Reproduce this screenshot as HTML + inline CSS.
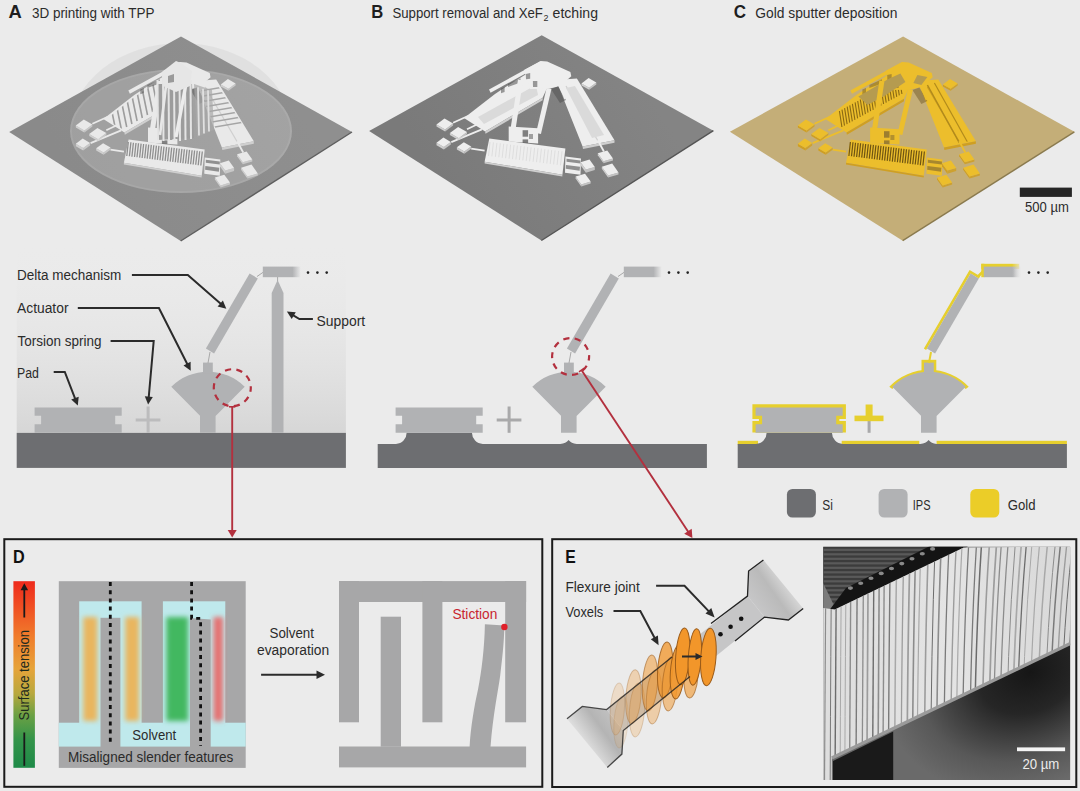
<!DOCTYPE html><html><head><meta charset="utf-8"><style>html,body{margin:0;padding:0;background:#ebebeb;}svg{display:block;font-family:"Liberation Sans",sans-serif;}</style></head><body><svg width="1080" height="791" viewBox="0 0 1080 791"><rect x="0" y="0" width="1080" height="791" fill="#ebebeb"/>
<text x="8.6" y="18.0" font-size="17.5" fill="#1e1e1e" font-weight="bold" textLength="13.3" lengthAdjust="spacingAndGlyphs" >A</text>
<text x="31.9" y="18.0" font-size="14" fill="#2b2b2b" font-weight="normal" textLength="122.7" lengthAdjust="spacingAndGlyphs" >3D printing with TPP</text>
<text x="371.2" y="18.0" font-size="17.5" fill="#1e1e1e" font-weight="bold" textLength="12.0" lengthAdjust="spacingAndGlyphs" >B</text>
<text x="392.4" y="18" font-size="14" fill="#2b2b2b" textLength="150.5" lengthAdjust="spacingAndGlyphs">Support removal and XeF</text>
<text x="543.6" y="20.5" font-size="9" fill="#2b2b2b" font-weight="normal" textLength="5.0" lengthAdjust="spacingAndGlyphs" >2</text>
<text x="552.6" y="18.0" font-size="14" fill="#2b2b2b" font-weight="normal" textLength="45.4" lengthAdjust="spacingAndGlyphs" >etching</text>
<text x="733.8" y="18.0" font-size="17.5" fill="#1e1e1e" font-weight="bold" textLength="12.3" lengthAdjust="spacingAndGlyphs" >C</text>
<text x="755.2" y="18.0" font-size="14" fill="#2b2b2b" font-weight="normal" textLength="142.2" lengthAdjust="spacingAndGlyphs" >Gold sputter deposition</text>
<path d="M70,131 A111,88 0 0 1 292,131 A111,62 0 0 1 70,131 Z" fill="#9a9a9a" opacity="0.13"/>
<polygon points="181.0,36.4 352.0,132.0 180.7,241.0 9.2,132.0" fill="url(#plA)" />
<line x1="352" y1="132" x2="180.7" y2="241" stroke="#5e5e5e" stroke-width="1.4"/>
<defs><linearGradient id="plB" gradientUnits="userSpaceOnUse" x1="640" y1="80" x2="450" y2="200"><stop offset="0" stop-color="#848484"/><stop offset="1" stop-color="#7a7a7a"/></linearGradient><linearGradient id="plA" gradientUnits="userSpaceOnUse" x1="280" y1="80" x2="90" y2="200"><stop offset="0" stop-color="#8f8f8f"/><stop offset="1" stop-color="#8a8a8a"/></linearGradient></defs>
<polygon points="541.7,35.3 713.4,130.7 541.4,240.5 369.1,131.1" fill="url(#plB)" />
<line x1="713.4" y1="130.7" x2="541.4" y2="240.5" stroke="#555" stroke-width="1.4"/>
<polygon points="903.1,36.4 1074.4,131.8 902.7,240.7 729.9,131.8" fill="#c4ae78" />
<line x1="1074.4" y1="131.8" x2="902.7" y2="240.7" stroke="#8a7a4e" stroke-width="1.4"/>
<rect x="1019.8" y="187.6" width="52.1" height="9.3" fill="#262626"/>
<text x="1025.1" y="211.9" font-size="14" fill="#2b2b2b" font-weight="normal" textLength="43.8" lengthAdjust="spacingAndGlyphs" >500 µm</text>
<ellipse cx="181" cy="131" rx="111" ry="62" fill="#ffffff" opacity="0.18"/>
<ellipse cx="181" cy="131" rx="110" ry="61" fill="none" stroke="#ffffff" stroke-opacity="0.08" stroke-width="2"/>
<g transform="translate(-360.7,1)">
<polygon points="556.0,80.0 576.9,78.5 614.5,140.3 582.6,146.4" fill="#e9e9e9" />
<polygon points="582.6,146.4 614.5,140.3 614.5,142.8 583.0,149.0" fill="#cfcfcf" />
<line x1="566" y1="86" x2="598" y2="141" stroke="#cfcfcf" stroke-width="1.2"/>
<polygon points="464.0,118.0 495.0,94.0 504.0,88.0 528.0,73.0 545.0,66.0 548.0,86.0 542.6,97.7 485.1,131.4" fill="#e9e9e9" />
<polygon points="485.1,131.4 542.6,97.7 542.6,100.2 485.5,133.8" fill="#cfcfcf" />
<defs><clipPath id="lsa"><polygon points="466,119 495,96 504,90 528,75 543,70 546,86 540.6,98.7 486.1,129.4"/></clipPath><clipPath id="rsa"><polygon points="557,82 576,80.5 613,139.3 583.6,145"/></clipPath></defs>
<g clip-path="url(#lsa)">
<line x1="468.0" y1="88.0" x2="477.0" y2="132.0" stroke="#9d9d9d" stroke-width="1.6"/>
<line x1="473.2" y1="85.0" x2="482.2" y2="129.0" stroke="#9d9d9d" stroke-width="1.6"/>
<line x1="478.4" y1="82.0" x2="487.4" y2="126.0" stroke="#9d9d9d" stroke-width="1.6"/>
<line x1="483.6" y1="79.0" x2="492.6" y2="123.0" stroke="#9d9d9d" stroke-width="1.6"/>
<line x1="488.8" y1="76.0" x2="497.8" y2="120.0" stroke="#9d9d9d" stroke-width="1.6"/>
<line x1="494.0" y1="73.0" x2="503.0" y2="117.0" stroke="#9d9d9d" stroke-width="1.6"/>
<line x1="499.2" y1="70.0" x2="508.2" y2="114.0" stroke="#9d9d9d" stroke-width="1.6"/>
<line x1="504.4" y1="67.0" x2="513.4" y2="111.0" stroke="#9d9d9d" stroke-width="1.6"/>
<line x1="509.6" y1="64.0" x2="518.6" y2="108.0" stroke="#9d9d9d" stroke-width="1.6"/>
<line x1="514.8" y1="61.0" x2="523.8" y2="105.0" stroke="#9d9d9d" stroke-width="1.6"/>
<line x1="520.0" y1="58.0" x2="529.0" y2="102.0" stroke="#9d9d9d" stroke-width="1.6"/>
<line x1="525.2" y1="55.0" x2="534.2" y2="99.0" stroke="#9d9d9d" stroke-width="1.6"/>
<line x1="530.4" y1="52.0" x2="539.4" y2="96.0" stroke="#9d9d9d" stroke-width="1.6"/>
<line x1="535.6" y1="49.0" x2="544.6" y2="93.0" stroke="#9d9d9d" stroke-width="1.6"/>
<line x1="540.8" y1="46.0" x2="549.8" y2="90.0" stroke="#9d9d9d" stroke-width="1.6"/>
<line x1="546.0" y1="43.0" x2="555.0" y2="87.0" stroke="#9d9d9d" stroke-width="1.6"/>
</g>
<g clip-path="url(#rsa)">
<line x1="550" y1="92.0" x2="620" y2="80.0" stroke="#a5a5a5" stroke-width="1.5"/>
<line x1="550" y1="97.5" x2="620" y2="85.5" stroke="#a5a5a5" stroke-width="1.5"/>
<line x1="550" y1="103.0" x2="620" y2="91.0" stroke="#a5a5a5" stroke-width="1.5"/>
<line x1="550" y1="108.5" x2="620" y2="96.5" stroke="#a5a5a5" stroke-width="1.5"/>
<line x1="550" y1="114.0" x2="620" y2="102.0" stroke="#a5a5a5" stroke-width="1.5"/>
<line x1="550" y1="119.5" x2="620" y2="107.5" stroke="#a5a5a5" stroke-width="1.5"/>
<line x1="550" y1="125.0" x2="620" y2="113.0" stroke="#a5a5a5" stroke-width="1.5"/>
<line x1="550" y1="130.5" x2="620" y2="118.5" stroke="#a5a5a5" stroke-width="1.5"/>
</g>
<polygon points="524.0,70.0 540.7,61.0 547.2,61.5 570.4,72.1 571.3,76.3 560.0,86.0 549.0,88.8 530.0,89.0" fill="#e9e9e9" />
<polygon points="489.0,89.6 540.5,61.2 542.0,64.5 490.6,92.8" fill="#e9e9e9" />
<polygon points="501.0,88.5 504.6,87.0 504.6,92.0 501.0,93.3" fill="#555" opacity="0.55"/>
<polygon points="508.0,84.0 520.5,78.3 520.5,82.5 508.0,87.1" fill="#555" opacity="0.55"/>
<polygon points="525.8,74.0 530.2,73.0 530.2,78.7 526.0,79.2" fill="#555" opacity="0.55"/>
<polygon points="532.9,81.0 537.3,80.9 537.3,87.1 533.0,87.1" fill="#555" opacity="0.55"/>
<polygon points="551.0,89.0 558.0,86.5 566.0,100.0 560.0,103.0" fill="#555" opacity="0.55"/>
<line x1="512" y1="136" x2="520.5" y2="80" stroke="#e9e9e9" stroke-width="5"/>
<line x1="538.5" y1="133.5" x2="549" y2="88.5" stroke="#e9e9e9" stroke-width="5"/>
<line x1="560" y1="86" x2="565" y2="99" stroke="#e9e9e9" stroke-width="1.5"/>
<polygon points="508.7,126.5 538.1,128.2 538.1,143.4 508.7,141.5" fill="#e9e9e9" />
<rect x="522.6" y="130.2" width="5.5" height="6.5" fill="#555" opacity="0.7"/>
<rect x="522.6" y="139.4" width="5.5" height="4" fill="#555" opacity="0.7"/>
<rect x="529" y="134" width="4" height="5" fill="#555" opacity="0.5"/>
<polygon points="489.3,138.5 565.4,148.4 562.4,174.7 484.6,161.7" fill="#e9e9e9" />
<polygon points="484.6,161.7 562.4,174.7 562.3,176.5 484.6,163.5" fill="#cfcfcf" />
<line x1="489.0" y1="141.0" x2="487.5" y2="155.0" stroke="#8e8e8e" stroke-width="1.3"/>
<line x1="491.6" y1="141.3" x2="490.1" y2="155.3" stroke="#8e8e8e" stroke-width="1.3"/>
<line x1="494.1" y1="141.7" x2="492.6" y2="155.7" stroke="#8e8e8e" stroke-width="1.3"/>
<line x1="496.7" y1="142.0" x2="495.2" y2="156.0" stroke="#8e8e8e" stroke-width="1.3"/>
<line x1="499.2" y1="142.3" x2="497.7" y2="156.3" stroke="#8e8e8e" stroke-width="1.3"/>
<line x1="501.8" y1="142.6" x2="500.3" y2="156.6" stroke="#8e8e8e" stroke-width="1.3"/>
<line x1="504.3" y1="143.0" x2="502.8" y2="157.0" stroke="#8e8e8e" stroke-width="1.3"/>
<line x1="506.9" y1="143.3" x2="505.4" y2="157.3" stroke="#8e8e8e" stroke-width="1.3"/>
<line x1="509.4" y1="143.6" x2="507.9" y2="157.6" stroke="#8e8e8e" stroke-width="1.3"/>
<line x1="512.0" y1="143.9" x2="510.5" y2="157.9" stroke="#8e8e8e" stroke-width="1.3"/>
<line x1="514.5" y1="144.3" x2="513.0" y2="158.3" stroke="#8e8e8e" stroke-width="1.3"/>
<line x1="517.1" y1="144.6" x2="515.6" y2="158.6" stroke="#8e8e8e" stroke-width="1.3"/>
<line x1="519.6" y1="144.9" x2="518.1" y2="158.9" stroke="#8e8e8e" stroke-width="1.3"/>
<line x1="522.2" y1="145.3" x2="520.7" y2="159.3" stroke="#8e8e8e" stroke-width="1.3"/>
<line x1="524.7" y1="145.6" x2="523.2" y2="159.6" stroke="#8e8e8e" stroke-width="1.3"/>
<line x1="527.3" y1="145.9" x2="525.8" y2="159.9" stroke="#8e8e8e" stroke-width="1.3"/>
<line x1="529.8" y1="146.2" x2="528.3" y2="160.2" stroke="#8e8e8e" stroke-width="1.3"/>
<line x1="532.4" y1="146.6" x2="530.9" y2="160.6" stroke="#8e8e8e" stroke-width="1.3"/>
<line x1="534.9" y1="146.9" x2="533.4" y2="160.9" stroke="#8e8e8e" stroke-width="1.3"/>
<line x1="537.5" y1="147.2" x2="536.0" y2="161.2" stroke="#8e8e8e" stroke-width="1.3"/>
<line x1="540.0" y1="147.6" x2="538.5" y2="161.6" stroke="#8e8e8e" stroke-width="1.3"/>
<line x1="542.6" y1="147.9" x2="541.1" y2="161.9" stroke="#8e8e8e" stroke-width="1.3"/>
<line x1="545.1" y1="148.2" x2="543.6" y2="162.2" stroke="#8e8e8e" stroke-width="1.3"/>
<line x1="547.7" y1="148.5" x2="546.2" y2="162.5" stroke="#8e8e8e" stroke-width="1.3"/>
<line x1="550.2" y1="148.9" x2="548.7" y2="162.9" stroke="#8e8e8e" stroke-width="1.3"/>
<line x1="552.8" y1="149.2" x2="551.3" y2="163.2" stroke="#8e8e8e" stroke-width="1.3"/>
<line x1="555.3" y1="149.5" x2="553.8" y2="163.5" stroke="#8e8e8e" stroke-width="1.3"/>
<line x1="557.9" y1="149.8" x2="556.4" y2="163.8" stroke="#8e8e8e" stroke-width="1.3"/>
<line x1="560.4" y1="150.2" x2="558.9" y2="164.2" stroke="#8e8e8e" stroke-width="1.3"/>
<line x1="563.0" y1="150.5" x2="561.5" y2="164.5" stroke="#8e8e8e" stroke-width="1.3"/>
<polygon points="565.4,156.5 581.0,158.5 580.5,174.7 565.0,172.7" fill="#e9e9e9" />
<polygon points="566.5,158.8 580.5,160.5 580.5,163.6 566.5,161.8" fill="#555" opacity="0.6"/>
<polygon points="566.0,165.0 580.0,166.8 579.6,170.7 565.8,168.8" fill="#555" opacity="0.6"/>
<line x1="453.1" y1="122.8" x2="468" y2="116" stroke="#e9e9e9" stroke-width="1.8"/>
<line x1="467" y1="129.3" x2="478" y2="124" stroke="#e9e9e9" stroke-width="1.8"/>
<line x1="451.3" y1="142.2" x2="481.9" y2="129.3" stroke="#e9e9e9" stroke-width="1.8"/>
<line x1="471.2" y1="148.7" x2="484.6" y2="150.6" stroke="#e9e9e9" stroke-width="1.8"/>
<line x1="597.8" y1="140.3" x2="603.9" y2="151.5" stroke="#e9e9e9" stroke-width="1.8"/>
<polygon points="436.5,124.6 445.1,129.5 445.1,131.5 436.5,126.6" fill="#cfcfcf" />
<polygon points="445.1,129.5 453.1,123.6 453.1,125.6 445.1,131.5" fill="#cfcfcf" opacity="0.85"/>
<polygon points="436.5,124.6 444.5,118.6 453.1,123.6 445.1,129.5" fill="#e9e9e9" />
<polygon points="449.9,133.1 458.8,138.3 458.8,140.3 449.9,135.1" fill="#cfcfcf" />
<polygon points="458.8,138.3 467.0,132.1 467.0,134.1 458.8,140.3" fill="#cfcfcf" opacity="0.85"/>
<polygon points="449.9,133.1 458.1,127.0 467.0,132.1 458.8,138.3" fill="#e9e9e9" />
<polygon points="436.5,142.7 443.9,147.0 443.9,149.6 436.5,145.3" fill="#cfcfcf" />
<polygon points="443.9,147.0 450.8,141.9 450.8,144.5 443.9,149.6" fill="#cfcfcf" opacity="0.85"/>
<polygon points="436.5,142.7 443.4,137.6 450.8,141.9 443.9,147.0" fill="#e9e9e9" />
<polygon points="456.9,147.3 464.3,151.6 464.3,153.8 456.9,149.5" fill="#cfcfcf" />
<polygon points="464.3,151.6 471.2,146.5 471.2,148.7 464.3,153.8" fill="#cfcfcf" opacity="0.85"/>
<polygon points="456.9,147.3 463.8,142.2 471.2,146.5 464.3,151.6" fill="#e9e9e9" />
<polygon points="581.5,83.4 589.2,87.8 589.2,89.8 581.5,85.4" fill="#cfcfcf" />
<polygon points="589.2,87.8 596.3,82.5 596.3,84.5 589.2,89.8" fill="#cfcfcf" opacity="0.85"/>
<polygon points="581.5,83.4 588.6,78.1 596.3,82.5 589.2,87.8" fill="#e9e9e9" />
<polygon points="597.8,153.3 603.5,161.3 603.5,163.3 597.8,155.3" fill="#cfcfcf" />
<polygon points="603.5,161.3 613.0,158.4 613.0,160.4 603.5,163.3" fill="#cfcfcf" opacity="0.85"/>
<polygon points="597.8,153.3 607.3,150.4 613.0,158.4 603.5,161.3" fill="#e9e9e9" />
<polygon points="601.8,166.7 608.1,175.5 608.1,177.5 601.8,168.7" fill="#cfcfcf" />
<polygon points="608.1,175.5 618.5,172.4 618.5,174.4 608.1,177.5" fill="#cfcfcf" opacity="0.85"/>
<polygon points="601.8,166.7 612.2,163.6 618.5,172.4 608.1,175.5" fill="#e9e9e9" />
<polygon points="575.6,176.5 581.3,184.5 581.3,186.5 575.6,178.5" fill="#cfcfcf" />
<polygon points="581.3,184.5 590.7,181.6 590.7,183.6 581.3,186.5" fill="#cfcfcf" opacity="0.85"/>
<polygon points="575.6,176.5 585.0,173.7 590.7,181.6 581.3,184.5" fill="#e9e9e9" />
<polygon points="580.6,162.2 585.9,169.6 585.9,172.7 580.6,165.2" fill="#cfcfcf" />
<polygon points="585.9,169.6 594.8,167.0 594.8,170.0 585.9,172.7" fill="#cfcfcf" opacity="0.85"/>
<polygon points="580.6,162.2 589.5,159.5 594.8,167.0 585.9,169.6" fill="#e9e9e9" />
</g>
<polygon points="157,84 192,84 194,138 158,140" fill="#9c9c9c"/>
<line x1="157.5" y1="80" x2="158.0" y2="140" stroke="#e4e4e4" stroke-width="2"/>
<line x1="163" y1="76" x2="163.5" y2="141" stroke="#e4e4e4" stroke-width="2"/>
<line x1="168.5" y1="74" x2="169.0" y2="141" stroke="#e4e4e4" stroke-width="2"/>
<line x1="174" y1="72" x2="174.5" y2="141" stroke="#e4e4e4" stroke-width="2"/>
<line x1="179.5" y1="74" x2="180.0" y2="141" stroke="#e4e4e4" stroke-width="2"/>
<line x1="185" y1="76" x2="185.5" y2="140" stroke="#e4e4e4" stroke-width="2"/>
<line x1="190.5" y1="80" x2="191.0" y2="139" stroke="#e4e4e4" stroke-width="2"/>
<line x1="176" y1="137" x2="186" y2="84" stroke="#ececec" stroke-width="3.4"/>
<line x1="160" y1="135" x2="166" y2="86" stroke="#e8e8e8" stroke-width="2.6"/>
<polygon points="162,72 176,61 181,63 192,71 190,86 176,92 163,86" fill="#e6e6e6"/>
<polygon points="168,76 174,74 174,82 168,83" fill="#9a9a9a"/>
<polygon points="194,84 212,90 214,130 197,137" fill="#a8a8a8" opacity="0.7"/>
<line x1="198" y1="87.2" x2="199" y2="135.6" stroke="#e0e0e0" stroke-width="1.8"/>
<line x1="203" y1="88.7" x2="204" y2="133.6" stroke="#e0e0e0" stroke-width="1.8"/>
<line x1="208" y1="90.2" x2="209" y2="131.6" stroke="#e0e0e0" stroke-width="1.8"/>
<g transform="translate(0,0)">
<polygon points="556.0,80.0 576.9,78.5 614.5,140.3 582.6,146.4" fill="#eeeeee" />
<polygon points="582.6,146.4 614.5,140.3 614.5,142.8 583.0,149.0" fill="#cfcfcf" />
<line x1="566" y1="86" x2="598" y2="141" stroke="#cfcfcf" stroke-width="1.2"/>
<polygon points="464.0,118.0 495.0,94.0 504.0,88.0 528.0,73.0 545.0,66.0 548.0,86.0 542.6,97.7 485.1,131.4" fill="#eeeeee" />
<polygon points="485.1,131.4 542.6,97.7 542.6,100.2 485.5,133.8" fill="#cfcfcf" />
<defs><clipPath id="lsb"><polygon points="466,119 495,96 504,90 528,75 543,70 546,86 540.6,98.7 486.1,129.4"/></clipPath><clipPath id="rsb"><polygon points="557,82 576,80.5 613,139.3 583.6,145"/></clipPath></defs>
<g clip-path="url(#lsb)">
<polygon points="478,117 536,85 538,95 484,124" fill="#dadada"/>
</g>
<g clip-path="url(#rsb)">
<polygon points="566,88 575,86 604,135 592,138" fill="#dadada"/>
</g>
<polygon points="524.0,70.0 540.7,61.0 547.2,61.5 570.4,72.1 571.3,76.3 560.0,86.0 549.0,88.8 530.0,89.0" fill="#eeeeee" />
<polygon points="489.0,89.6 540.5,61.2 542.0,64.5 490.6,92.8" fill="#eeeeee" />
<polygon points="501.0,88.5 504.6,87.0 504.6,92.0 501.0,93.3" fill="#505050" opacity="0.55"/>
<polygon points="508.0,84.0 520.5,78.3 520.5,82.5 508.0,87.1" fill="#505050" opacity="0.55"/>
<polygon points="525.8,74.0 530.2,73.0 530.2,78.7 526.0,79.2" fill="#505050" opacity="0.55"/>
<polygon points="532.9,81.0 537.3,80.9 537.3,87.1 533.0,87.1" fill="#505050" opacity="0.55"/>
<polygon points="551.0,89.0 558.0,86.5 566.0,100.0 560.0,103.0" fill="#505050" opacity="0.55"/>
<line x1="512" y1="136" x2="520.5" y2="80" stroke="#eeeeee" stroke-width="5"/>
<line x1="538.5" y1="133.5" x2="549" y2="88.5" stroke="#eeeeee" stroke-width="5"/>
<line x1="560" y1="86" x2="565" y2="99" stroke="#eeeeee" stroke-width="1.5"/>
<polygon points="508.7,126.5 538.1,128.2 538.1,143.4 508.7,141.5" fill="#eeeeee" />
<rect x="522.6" y="130.2" width="5.5" height="6.5" fill="#505050" opacity="0.7"/>
<rect x="522.6" y="139.4" width="5.5" height="4" fill="#505050" opacity="0.7"/>
<rect x="529" y="134" width="4" height="5" fill="#505050" opacity="0.5"/>
<polygon points="489.3,138.5 565.4,148.4 562.4,174.7 484.6,161.7" fill="#eeeeee" />
<polygon points="484.6,161.7 562.4,174.7 562.3,176.5 484.6,163.5" fill="#cfcfcf" />
<line x1="490.0" y1="142.0" x2="488.5" y2="156.0" stroke="#d9d9d9" stroke-width="0.8"/>
<line x1="493.4" y1="142.4" x2="491.9" y2="156.4" stroke="#d9d9d9" stroke-width="0.8"/>
<line x1="496.9" y1="142.9" x2="495.4" y2="156.9" stroke="#d9d9d9" stroke-width="0.8"/>
<line x1="500.3" y1="143.3" x2="498.8" y2="157.3" stroke="#d9d9d9" stroke-width="0.8"/>
<line x1="503.7" y1="143.8" x2="502.2" y2="157.8" stroke="#d9d9d9" stroke-width="0.8"/>
<line x1="507.1" y1="144.2" x2="505.6" y2="158.2" stroke="#d9d9d9" stroke-width="0.8"/>
<line x1="510.6" y1="144.7" x2="509.1" y2="158.7" stroke="#d9d9d9" stroke-width="0.8"/>
<line x1="514.0" y1="145.1" x2="512.5" y2="159.1" stroke="#d9d9d9" stroke-width="0.8"/>
<line x1="517.4" y1="145.5" x2="515.9" y2="159.5" stroke="#d9d9d9" stroke-width="0.8"/>
<line x1="520.9" y1="146.0" x2="519.4" y2="160.0" stroke="#d9d9d9" stroke-width="0.8"/>
<line x1="524.3" y1="146.4" x2="522.8" y2="160.4" stroke="#d9d9d9" stroke-width="0.8"/>
<line x1="527.7" y1="146.9" x2="526.2" y2="160.9" stroke="#d9d9d9" stroke-width="0.8"/>
<line x1="531.1" y1="147.3" x2="529.6" y2="161.3" stroke="#d9d9d9" stroke-width="0.8"/>
<line x1="534.6" y1="147.8" x2="533.1" y2="161.8" stroke="#d9d9d9" stroke-width="0.8"/>
<line x1="538.0" y1="148.2" x2="536.5" y2="162.2" stroke="#d9d9d9" stroke-width="0.8"/>
<line x1="541.4" y1="148.6" x2="539.9" y2="162.6" stroke="#d9d9d9" stroke-width="0.8"/>
<line x1="544.9" y1="149.1" x2="543.4" y2="163.1" stroke="#d9d9d9" stroke-width="0.8"/>
<line x1="548.3" y1="149.5" x2="546.8" y2="163.5" stroke="#d9d9d9" stroke-width="0.8"/>
<line x1="551.7" y1="150.0" x2="550.2" y2="164.0" stroke="#d9d9d9" stroke-width="0.8"/>
<line x1="555.1" y1="150.4" x2="553.6" y2="164.4" stroke="#d9d9d9" stroke-width="0.8"/>
<line x1="558.6" y1="150.9" x2="557.1" y2="164.9" stroke="#d9d9d9" stroke-width="0.8"/>
<line x1="562.0" y1="151.3" x2="560.5" y2="165.3" stroke="#d9d9d9" stroke-width="0.8"/>
<polygon points="565.4,156.5 581.0,158.5 580.5,174.7 565.0,172.7" fill="#eeeeee" />
<polygon points="566.5,158.8 580.5,160.5 580.5,163.6 566.5,161.8" fill="#505050" opacity="0.6"/>
<polygon points="566.0,165.0 580.0,166.8 579.6,170.7 565.8,168.8" fill="#505050" opacity="0.6"/>
<line x1="453.1" y1="122.8" x2="468" y2="116" stroke="#eeeeee" stroke-width="1.8"/>
<line x1="467" y1="129.3" x2="478" y2="124" stroke="#eeeeee" stroke-width="1.8"/>
<line x1="451.3" y1="142.2" x2="481.9" y2="129.3" stroke="#eeeeee" stroke-width="1.8"/>
<line x1="471.2" y1="148.7" x2="484.6" y2="150.6" stroke="#eeeeee" stroke-width="1.8"/>
<line x1="597.8" y1="140.3" x2="603.9" y2="151.5" stroke="#eeeeee" stroke-width="1.8"/>
<polygon points="436.5,124.6 445.1,129.5 445.1,131.5 436.5,126.6" fill="#cfcfcf" />
<polygon points="445.1,129.5 453.1,123.6 453.1,125.6 445.1,131.5" fill="#cfcfcf" opacity="0.85"/>
<polygon points="436.5,124.6 444.5,118.6 453.1,123.6 445.1,129.5" fill="#eeeeee" />
<polygon points="449.9,133.1 458.8,138.3 458.8,140.3 449.9,135.1" fill="#cfcfcf" />
<polygon points="458.8,138.3 467.0,132.1 467.0,134.1 458.8,140.3" fill="#cfcfcf" opacity="0.85"/>
<polygon points="449.9,133.1 458.1,127.0 467.0,132.1 458.8,138.3" fill="#eeeeee" />
<polygon points="436.5,142.7 443.9,147.0 443.9,149.6 436.5,145.3" fill="#cfcfcf" />
<polygon points="443.9,147.0 450.8,141.9 450.8,144.5 443.9,149.6" fill="#cfcfcf" opacity="0.85"/>
<polygon points="436.5,142.7 443.4,137.6 450.8,141.9 443.9,147.0" fill="#eeeeee" />
<polygon points="456.9,147.3 464.3,151.6 464.3,153.8 456.9,149.5" fill="#cfcfcf" />
<polygon points="464.3,151.6 471.2,146.5 471.2,148.7 464.3,153.8" fill="#cfcfcf" opacity="0.85"/>
<polygon points="456.9,147.3 463.8,142.2 471.2,146.5 464.3,151.6" fill="#eeeeee" />
<polygon points="581.5,83.4 589.2,87.8 589.2,89.8 581.5,85.4" fill="#cfcfcf" />
<polygon points="589.2,87.8 596.3,82.5 596.3,84.5 589.2,89.8" fill="#cfcfcf" opacity="0.85"/>
<polygon points="581.5,83.4 588.6,78.1 596.3,82.5 589.2,87.8" fill="#eeeeee" />
<polygon points="597.8,153.3 603.5,161.3 603.5,163.3 597.8,155.3" fill="#cfcfcf" />
<polygon points="603.5,161.3 613.0,158.4 613.0,160.4 603.5,163.3" fill="#cfcfcf" opacity="0.85"/>
<polygon points="597.8,153.3 607.3,150.4 613.0,158.4 603.5,161.3" fill="#eeeeee" />
<polygon points="601.8,166.7 608.1,175.5 608.1,177.5 601.8,168.7" fill="#cfcfcf" />
<polygon points="608.1,175.5 618.5,172.4 618.5,174.4 608.1,177.5" fill="#cfcfcf" opacity="0.85"/>
<polygon points="601.8,166.7 612.2,163.6 618.5,172.4 608.1,175.5" fill="#eeeeee" />
<polygon points="575.6,176.5 581.3,184.5 581.3,186.5 575.6,178.5" fill="#cfcfcf" />
<polygon points="581.3,184.5 590.7,181.6 590.7,183.6 581.3,186.5" fill="#cfcfcf" opacity="0.85"/>
<polygon points="575.6,176.5 585.0,173.7 590.7,181.6 581.3,184.5" fill="#eeeeee" />
<polygon points="580.6,162.2 585.9,169.6 585.9,172.7 580.6,165.2" fill="#cfcfcf" />
<polygon points="585.9,169.6 594.8,167.0 594.8,170.0 585.9,172.7" fill="#cfcfcf" opacity="0.85"/>
<polygon points="580.6,162.2 589.5,159.5 594.8,167.0 585.9,169.6" fill="#eeeeee" />
</g>
<g transform="translate(361.4,1)">
<polygon points="556.0,80.0 576.9,78.5 614.5,140.3 582.6,146.4" fill="#ecbe2c" />
<polygon points="582.6,146.4 614.5,140.3 614.5,142.8 583.0,149.0" fill="#cf9f22" />
<line x1="566" y1="86" x2="598" y2="141" stroke="#cf9f22" stroke-width="1.2"/>
<polygon points="464.0,118.0 495.0,94.0 504.0,88.0 528.0,73.0 545.0,66.0 548.0,86.0 542.6,97.7 485.1,131.4" fill="#ecbe2c" />
<polygon points="485.1,131.4 542.6,97.7 542.6,100.2 485.5,133.8" fill="#cf9f22" />
<defs><clipPath id="lsc"><polygon points="466,119 495,96 504,90 528,75 543,70 546,86 540.6,98.7 486.1,129.4"/></clipPath><clipPath id="rsc"><polygon points="557,82 576,80.5 613,139.3 583.6,145"/></clipPath></defs>
<g clip-path="url(#lsc)">
<line x1="478.0" y1="110.0" x2="480.5" y2="126.0" stroke="#8a6a14" stroke-width="1.1"/>
<line x1="480.6" y1="108.6" x2="483.1" y2="124.6" stroke="#8a6a14" stroke-width="1.1"/>
<line x1="483.2" y1="107.1" x2="485.7" y2="123.1" stroke="#8a6a14" stroke-width="1.1"/>
<line x1="485.8" y1="105.7" x2="488.3" y2="121.7" stroke="#8a6a14" stroke-width="1.1"/>
<line x1="488.4" y1="104.3" x2="490.9" y2="120.3" stroke="#8a6a14" stroke-width="1.1"/>
<line x1="491.0" y1="102.8" x2="493.5" y2="118.8" stroke="#8a6a14" stroke-width="1.1"/>
<line x1="493.7" y1="101.4" x2="496.2" y2="117.4" stroke="#8a6a14" stroke-width="1.1"/>
<line x1="496.3" y1="100.0" x2="498.8" y2="116.0" stroke="#8a6a14" stroke-width="1.1"/>
<line x1="498.9" y1="98.5" x2="501.4" y2="114.5" stroke="#8a6a14" stroke-width="1.1"/>
<line x1="501.5" y1="97.1" x2="504.0" y2="113.1" stroke="#8a6a14" stroke-width="1.1"/>
<line x1="504.1" y1="95.7" x2="506.6" y2="111.7" stroke="#8a6a14" stroke-width="1.1"/>
<line x1="506.7" y1="94.2" x2="509.2" y2="110.2" stroke="#8a6a14" stroke-width="1.1"/>
<line x1="509.3" y1="92.8" x2="511.8" y2="108.8" stroke="#8a6a14" stroke-width="1.1"/>
<line x1="511.9" y1="91.3" x2="514.4" y2="107.3" stroke="#8a6a14" stroke-width="1.1"/>
<line x1="514.5" y1="89.9" x2="517.0" y2="105.9" stroke="#8a6a14" stroke-width="1.1"/>
<line x1="517.1" y1="88.5" x2="519.6" y2="104.5" stroke="#8a6a14" stroke-width="1.1"/>
<line x1="519.7" y1="87.0" x2="522.2" y2="103.0" stroke="#8a6a14" stroke-width="1.1"/>
<line x1="522.3" y1="85.6" x2="524.8" y2="101.6" stroke="#8a6a14" stroke-width="1.1"/>
<line x1="525.0" y1="84.2" x2="527.5" y2="100.2" stroke="#8a6a14" stroke-width="1.1"/>
<line x1="527.6" y1="82.7" x2="530.1" y2="98.7" stroke="#8a6a14" stroke-width="1.1"/>
<line x1="530.2" y1="81.3" x2="532.7" y2="97.3" stroke="#8a6a14" stroke-width="1.1"/>
<line x1="532.8" y1="79.9" x2="535.3" y2="95.9" stroke="#8a6a14" stroke-width="1.1"/>
<line x1="535.4" y1="78.4" x2="537.9" y2="94.4" stroke="#8a6a14" stroke-width="1.1"/>
<line x1="538.0" y1="77.0" x2="540.5" y2="93.0" stroke="#8a6a14" stroke-width="1.1"/>
</g>
<g clip-path="url(#rsc)">
<line x1="566" y1="84" x2="598" y2="142" stroke="#b08a1c" stroke-width="1.5"/>
<line x1="573" y1="82" x2="606" y2="141" stroke="#b08a1c" stroke-width="1.2"/>
</g>
<polygon points="524.0,70.0 540.7,61.0 547.2,61.5 570.4,72.1 571.3,76.3 560.0,86.0 549.0,88.8 530.0,89.0" fill="#ecbe2c" />
<polygon points="489.0,89.6 540.5,61.2 542.0,64.5 490.6,92.8" fill="#ecbe2c" />
<polygon points="501.0,88.5 504.6,87.0 504.6,92.0 501.0,93.3" fill="#7a6230" opacity="0.55"/>
<polygon points="508.0,84.0 520.5,78.3 520.5,82.5 508.0,87.1" fill="#7a6230" opacity="0.55"/>
<polygon points="525.8,74.0 530.2,73.0 530.2,78.7 526.0,79.2" fill="#7a6230" opacity="0.55"/>
<polygon points="532.9,81.0 537.3,80.9 537.3,87.1 533.0,87.1" fill="#7a6230" opacity="0.55"/>
<polygon points="551.0,89.0 558.0,86.5 566.0,100.0 560.0,103.0" fill="#7a6230" opacity="0.55"/>
<polygon points="497.0,95.5 527.0,78.0 539.0,72.5 544.0,81.0 523.0,95.0 506.0,104.0" fill="#b59b50" />
<polygon points="556.0,74.0 566.0,76.0 560.0,84.0 552.0,82.0" fill="#b59b50" />
<line x1="512" y1="136" x2="520.5" y2="80" stroke="#ecbe2c" stroke-width="5"/>
<line x1="538.5" y1="133.5" x2="549" y2="88.5" stroke="#ecbe2c" stroke-width="5"/>
<line x1="560" y1="86" x2="565" y2="99" stroke="#ecbe2c" stroke-width="1.5"/>
<polygon points="508.7,126.5 538.1,128.2 538.1,143.4 508.7,141.5" fill="#ecbe2c" />
<rect x="522.6" y="130.2" width="5.5" height="6.5" fill="#7a6230" opacity="0.7"/>
<rect x="522.6" y="139.4" width="5.5" height="4" fill="#7a6230" opacity="0.7"/>
<rect x="529" y="134" width="4" height="5" fill="#7a6230" opacity="0.5"/>
<polygon points="489.3,138.5 565.4,148.4 562.4,174.7 484.6,161.7" fill="#ecbe2c" />
<polygon points="484.6,161.7 562.4,174.7 562.3,176.5 484.6,163.5" fill="#cf9f22" />
<line x1="489.0" y1="141.0" x2="487.5" y2="155.0" stroke="#6e5412" stroke-width="1.2"/>
<line x1="491.6" y1="141.3" x2="490.1" y2="155.3" stroke="#6e5412" stroke-width="1.2"/>
<line x1="494.1" y1="141.7" x2="492.6" y2="155.7" stroke="#6e5412" stroke-width="1.2"/>
<line x1="496.7" y1="142.0" x2="495.2" y2="156.0" stroke="#6e5412" stroke-width="1.2"/>
<line x1="499.2" y1="142.3" x2="497.7" y2="156.3" stroke="#6e5412" stroke-width="1.2"/>
<line x1="501.8" y1="142.6" x2="500.3" y2="156.6" stroke="#6e5412" stroke-width="1.2"/>
<line x1="504.3" y1="143.0" x2="502.8" y2="157.0" stroke="#6e5412" stroke-width="1.2"/>
<line x1="506.9" y1="143.3" x2="505.4" y2="157.3" stroke="#6e5412" stroke-width="1.2"/>
<line x1="509.4" y1="143.6" x2="507.9" y2="157.6" stroke="#6e5412" stroke-width="1.2"/>
<line x1="512.0" y1="143.9" x2="510.5" y2="157.9" stroke="#6e5412" stroke-width="1.2"/>
<line x1="514.5" y1="144.3" x2="513.0" y2="158.3" stroke="#6e5412" stroke-width="1.2"/>
<line x1="517.1" y1="144.6" x2="515.6" y2="158.6" stroke="#6e5412" stroke-width="1.2"/>
<line x1="519.6" y1="144.9" x2="518.1" y2="158.9" stroke="#6e5412" stroke-width="1.2"/>
<line x1="522.2" y1="145.3" x2="520.7" y2="159.3" stroke="#6e5412" stroke-width="1.2"/>
<line x1="524.7" y1="145.6" x2="523.2" y2="159.6" stroke="#6e5412" stroke-width="1.2"/>
<line x1="527.3" y1="145.9" x2="525.8" y2="159.9" stroke="#6e5412" stroke-width="1.2"/>
<line x1="529.8" y1="146.2" x2="528.3" y2="160.2" stroke="#6e5412" stroke-width="1.2"/>
<line x1="532.4" y1="146.6" x2="530.9" y2="160.6" stroke="#6e5412" stroke-width="1.2"/>
<line x1="534.9" y1="146.9" x2="533.4" y2="160.9" stroke="#6e5412" stroke-width="1.2"/>
<line x1="537.5" y1="147.2" x2="536.0" y2="161.2" stroke="#6e5412" stroke-width="1.2"/>
<line x1="540.0" y1="147.6" x2="538.5" y2="161.6" stroke="#6e5412" stroke-width="1.2"/>
<line x1="542.6" y1="147.9" x2="541.1" y2="161.9" stroke="#6e5412" stroke-width="1.2"/>
<line x1="545.1" y1="148.2" x2="543.6" y2="162.2" stroke="#6e5412" stroke-width="1.2"/>
<line x1="547.7" y1="148.5" x2="546.2" y2="162.5" stroke="#6e5412" stroke-width="1.2"/>
<line x1="550.2" y1="148.9" x2="548.7" y2="162.9" stroke="#6e5412" stroke-width="1.2"/>
<line x1="552.8" y1="149.2" x2="551.3" y2="163.2" stroke="#6e5412" stroke-width="1.2"/>
<line x1="555.3" y1="149.5" x2="553.8" y2="163.5" stroke="#6e5412" stroke-width="1.2"/>
<line x1="557.9" y1="149.8" x2="556.4" y2="163.8" stroke="#6e5412" stroke-width="1.2"/>
<line x1="560.4" y1="150.2" x2="558.9" y2="164.2" stroke="#6e5412" stroke-width="1.2"/>
<line x1="563.0" y1="150.5" x2="561.5" y2="164.5" stroke="#6e5412" stroke-width="1.2"/>
<polygon points="565.4,156.5 581.0,158.5 580.5,174.7 565.0,172.7" fill="#ecbe2c" />
<polygon points="566.5,158.8 580.5,160.5 580.5,163.6 566.5,161.8" fill="#7a6230" opacity="0.6"/>
<polygon points="566.0,165.0 580.0,166.8 579.6,170.7 565.8,168.8" fill="#7a6230" opacity="0.6"/>
<line x1="453.1" y1="122.8" x2="468" y2="116" stroke="#ecbe2c" stroke-width="1.8"/>
<line x1="467" y1="129.3" x2="478" y2="124" stroke="#ecbe2c" stroke-width="1.8"/>
<line x1="451.3" y1="142.2" x2="481.9" y2="129.3" stroke="#ecbe2c" stroke-width="1.8"/>
<line x1="471.2" y1="148.7" x2="484.6" y2="150.6" stroke="#ecbe2c" stroke-width="1.8"/>
<line x1="597.8" y1="140.3" x2="603.9" y2="151.5" stroke="#ecbe2c" stroke-width="1.8"/>
<polygon points="436.5,124.6 445.1,129.5 445.1,131.5 436.5,126.6" fill="#cf9f22" />
<polygon points="445.1,129.5 453.1,123.6 453.1,125.6 445.1,131.5" fill="#cf9f22" opacity="0.85"/>
<polygon points="436.5,124.6 444.5,118.6 453.1,123.6 445.1,129.5" fill="#ecbe2c" />
<polygon points="449.9,133.1 458.8,138.3 458.8,140.3 449.9,135.1" fill="#cf9f22" />
<polygon points="458.8,138.3 467.0,132.1 467.0,134.1 458.8,140.3" fill="#cf9f22" opacity="0.85"/>
<polygon points="449.9,133.1 458.1,127.0 467.0,132.1 458.8,138.3" fill="#ecbe2c" />
<polygon points="436.5,142.7 443.9,147.0 443.9,149.6 436.5,145.3" fill="#cf9f22" />
<polygon points="443.9,147.0 450.8,141.9 450.8,144.5 443.9,149.6" fill="#cf9f22" opacity="0.85"/>
<polygon points="436.5,142.7 443.4,137.6 450.8,141.9 443.9,147.0" fill="#ecbe2c" />
<polygon points="456.9,147.3 464.3,151.6 464.3,153.8 456.9,149.5" fill="#cf9f22" />
<polygon points="464.3,151.6 471.2,146.5 471.2,148.7 464.3,153.8" fill="#cf9f22" opacity="0.85"/>
<polygon points="456.9,147.3 463.8,142.2 471.2,146.5 464.3,151.6" fill="#ecbe2c" />
<polygon points="581.5,83.4 589.2,87.8 589.2,89.8 581.5,85.4" fill="#cf9f22" />
<polygon points="589.2,87.8 596.3,82.5 596.3,84.5 589.2,89.8" fill="#cf9f22" opacity="0.85"/>
<polygon points="581.5,83.4 588.6,78.1 596.3,82.5 589.2,87.8" fill="#ecbe2c" />
<polygon points="597.8,153.3 603.5,161.3 603.5,163.3 597.8,155.3" fill="#cf9f22" />
<polygon points="603.5,161.3 613.0,158.4 613.0,160.4 603.5,163.3" fill="#cf9f22" opacity="0.85"/>
<polygon points="597.8,153.3 607.3,150.4 613.0,158.4 603.5,161.3" fill="#ecbe2c" />
<polygon points="601.8,166.7 608.1,175.5 608.1,177.5 601.8,168.7" fill="#cf9f22" />
<polygon points="608.1,175.5 618.5,172.4 618.5,174.4 608.1,177.5" fill="#cf9f22" opacity="0.85"/>
<polygon points="601.8,166.7 612.2,163.6 618.5,172.4 608.1,175.5" fill="#ecbe2c" />
<polygon points="575.6,176.5 581.3,184.5 581.3,186.5 575.6,178.5" fill="#cf9f22" />
<polygon points="581.3,184.5 590.7,181.6 590.7,183.6 581.3,186.5" fill="#cf9f22" opacity="0.85"/>
<polygon points="575.6,176.5 585.0,173.7 590.7,181.6 581.3,184.5" fill="#ecbe2c" />
<polygon points="580.6,162.2 585.9,169.6 585.9,172.7 580.6,165.2" fill="#cf9f22" />
<polygon points="585.9,169.6 594.8,167.0 594.8,170.0 585.9,172.7" fill="#cf9f22" opacity="0.85"/>
<polygon points="580.6,162.2 589.5,159.5 594.8,167.0 585.9,169.6" fill="#ecbe2c" />
</g>
<defs><linearGradient id="gA" x1="0" y1="0" x2="0" y2="1"><stop offset="0" stop-color="#ebebeb" stop-opacity="0"/><stop offset="1" stop-color="#d6d6d6"/></linearGradient><linearGradient id="barI" x1="0" y1="0" x2="1" y2="0"><stop offset="0.78" stop-color="#b1b2b4"/><stop offset="1" stop-color="#b1b2b4" stop-opacity="0"/></linearGradient></defs>
<rect x="16.7" y="240" width="329.2" height="193" fill="url(#gA)"/>
<rect x="16.7" y="432.9" width="329.2" height="35" fill="#6d6e71"/>
<polygon points="34.6,407.4 121.7,407.4 121.7,415.7 115.2,415.7 115.2,424.2 121.7,424.2 121.7,432.8 34.6,432.8 34.6,424.2 41.1,424.2 41.1,415.7 34.6,415.7" fill="#b1b2b4" />
<rect x="146.6" y="406.5" width="3" height="26.3" fill="#bcbcbd"/>
<rect x="135.7" y="418.5" width="24.7" height="3" fill="#bcbcbd"/>
<path d="M171.3,386.8 A52,52 0 0 1 244.7,386.8 L215.6,416 L215.6,432.8 L200.0,432.8 L200.0,415.7 Z" fill="#b1b2b4"/>
<rect x="203" y="362.6" width="9.8" height="10.5" fill="#b1b2b4"/>
<polygon points="214.1,353.4 257.8,278.4 249.6,273.6 205.9,348.6" fill="#b1b2b4" />
<line x1="210" y1="352" x2="208" y2="363" stroke="#a9a9a9" stroke-width="1"/>
<line x1="257" y1="276.5" x2="263.5" y2="272" stroke="#a9a9a9" stroke-width="1"/>
<rect x="262.8" y="266.6" width="38" height="10.6" fill="url(#barI)"/>
<circle cx="308.0" cy="272.6" r="1.3" fill="#222"/>
<circle cx="317.4" cy="272.6" r="1.3" fill="#222"/>
<circle cx="326.7" cy="272.6" r="1.3" fill="#222"/>
<polygon points="271.7,432.8 271.7,293.0 277.6,280.0 283.5,293.0 283.5,432.8" fill="#b1b2b4" />
<line x1="277.6" y1="277" x2="277.6" y2="281" stroke="#a9a9a9" stroke-width="1"/>
<path d="M377.7,468 L377.7,443.9 L396.0,443.9 A11,11 0 0 0 406.6,432.8 L472.0,432.8 A11,11 0 0 0 482.7,443.9 L560.3,443.9 Q566.0,443.5 568.6,440 Q571.2,443.5 576.6,443.9 L706.9,443.9 L706.9,468 Z" fill="#6d6e71"/>
<polygon points="395.6,407.4 482.7,407.4 482.7,415.7 476.2,415.7 476.2,424.2 482.7,424.2 482.7,432.8 395.6,432.8 395.6,424.2 402.1,424.2 402.1,415.7 395.6,415.7" fill="#b1b2b4" />
<rect x="507.6" y="406.5" width="3" height="26.3" fill="#a9a9aa"/>
<rect x="496.7" y="418.5" width="24.7" height="3" fill="#a9a9aa"/>
<path d="M532.3,386.8 A52,52 0 0 1 605.7,386.8 L576.6,416 L576.6,432.8 L561.0,432.8 L561.0,415.7 Z" fill="#b1b2b4"/>
<rect x="564" y="362.6" width="9.8" height="10.5" fill="#b1b2b4"/>
<polygon points="575.1,353.4 618.8,278.4 610.6,273.6 566.9,348.6" fill="#b1b2b4" />
<line x1="571" y1="352" x2="569" y2="363" stroke="#a9a9a9" stroke-width="1"/>
<line x1="618" y1="276.5" x2="624.5" y2="272" stroke="#a9a9a9" stroke-width="1"/>
<rect x="623.8" y="266.6" width="38" height="10.6" fill="url(#barI)"/>
<circle cx="669.0" cy="272.6" r="1.3" fill="#222"/>
<circle cx="678.4" cy="272.6" r="1.3" fill="#222"/>
<circle cx="687.7" cy="272.6" r="1.3" fill="#222"/>
<rect x="737.7" y="440.8" width="20.3" height="4" fill="#e6cf2e"/>
<rect x="841.7" y="440.8" width="77.60000000000001" height="4" fill="#e6cf2e"/>
<rect x="936.6" y="440.8" width="130.29999999999998" height="4" fill="#e6cf2e"/>
<path d="M737.7,468 L737.7,443.9 L756.0,443.9 A11,11 0 0 0 766.6,432.8 L832.0,432.8 A11,11 0 0 0 842.7,443.9 L920.3,443.9 Q926.0,443.5 928.6,440 Q931.2,443.5 936.6,443.9 L1066.9,443.9 L1066.9,468 Z" fill="#6d6e71"/>
<defs><clipPath id="padclip"><rect x="721" y="380" width="360" height="52.4"/></clipPath></defs>
<polygon points="755.6,407.4 842.7,407.4 842.7,415.7 836.2,415.7 836.2,424.2 842.7,424.2 842.7,432.8 755.6,432.8 755.6,424.2 762.1,424.2 762.1,415.7 755.6,415.7" fill="#e6cf2e" stroke="#e6cf2e" stroke-width="6.4" stroke-linejoin="miter" clip-path="url(#padclip)"/>
<polygon points="755.6,407.4 842.7,407.4 842.7,415.7 836.2,415.7 836.2,424.2 842.7,424.2 842.7,432.8 755.6,432.8 755.6,424.2 762.1,424.2 762.1,415.7 755.6,415.7" fill="#b1b2b4" />
<rect x="867.6" y="406.5" width="3" height="26.3" fill="#a9a9aa"/>
<rect x="865.6" y="404.5" width="7" height="15" fill="#e6cf2e"/>
<rect x="854.5" y="415.6" width="29" height="5.6" fill="#e6cf2e"/>
<path d="M889.3,386.8 A55,55 0 0 1 968.7,386.8 L965.7,389 A52,52 0 0 0 892.3,389 Z" fill="#e6cf2e"/>
<rect x="921.5" y="359.8" width="14.8" height="12.5" fill="#e6cf2e"/>
<path d="M892.3,386.8 A52,52 0 0 1 965.7,386.8 L936.6,416 L936.6,432.8 L921.0,432.8 L921.0,415.7 Z" fill="#b1b2b4"/>
<rect x="924" y="362.6" width="9.8" height="10.5" fill="#b1b2b4"/>
<polygon points="926.1,349.9 923.9,348.6 969.6,270.0 980.2,276.2 978.8,278.4 970.6,273.6" fill="#e6cf2e" />
<polygon points="935.1,353.4 978.8,278.4 970.6,273.6 926.9,348.6" fill="#b1b2b4" />
<line x1="931" y1="352" x2="929" y2="363" stroke="#e6cf2e" stroke-width="2"/>
<line x1="978" y1="276.5" x2="984.5" y2="270" stroke="#e6cf2e" stroke-width="2.5"/>
<rect x="981.3" y="263.8" width="38" height="5" fill="#e6cf2e"/>
<rect x="981.3" y="263.8" width="3" height="13.4" fill="#e6cf2e"/>
<rect x="1010" y="262.8" width="14" height="7" fill="#ebebeb" opacity="0.0"/>
<rect x="983.8" y="266.6" width="38" height="10.6" fill="url(#barI)"/>
<circle cx="1029.0" cy="272.6" r="1.3" fill="#222"/>
<circle cx="1038.4" cy="272.6" r="1.3" fill="#222"/>
<circle cx="1047.7" cy="272.6" r="1.3" fill="#222"/>
<rect x="1012" y="262.8" width="11" height="15" fill="url(#fadeR)"/>
<defs><linearGradient id="fadeR" x1="0" y1="0" x2="1" y2="0"><stop offset="0" stop-color="#ebebeb" stop-opacity="0"/><stop offset="1" stop-color="#ebebeb" stop-opacity="1"/></linearGradient></defs>
<text x="17.0" y="280.4" font-size="14" fill="#2b2b2b" font-weight="normal" textLength="104.3" lengthAdjust="spacingAndGlyphs" >Delta mechanism</text>
<text x="17.0" y="312.8" font-size="14" fill="#2b2b2b" font-weight="normal" textLength="51.5" lengthAdjust="spacingAndGlyphs" >Actuator</text>
<text x="17.6" y="345.7" font-size="14" fill="#2b2b2b" font-weight="normal" textLength="83.9" lengthAdjust="spacingAndGlyphs" >Torsion spring</text>
<text x="17.0" y="378.1" font-size="14" fill="#2b2b2b" font-weight="normal" textLength="21.9" lengthAdjust="spacingAndGlyphs" >Pad</text>
<text x="316.6" y="325.5" font-size="14" fill="#2b2b2b" font-weight="normal" textLength="48.6" lengthAdjust="spacingAndGlyphs" >Support</text>
<polyline points="131.9,275.0 187.8,275.0 221.0,304.1" fill="none" stroke="#2b2b2b" stroke-width="2" stroke-linejoin="miter"/>
<polygon points="226.3,308.7 217.6,306.4 222.9,300.4" fill="#2b2b2b"/>
<polyline points="77.8,308.1 158.9,308.1 187.5,364.5" fill="none" stroke="#2b2b2b" stroke-width="2" stroke-linejoin="miter"/>
<polygon points="190.7,370.7 183.5,365.4 190.6,361.8" fill="#2b2b2b"/>
<polyline points="110.6,341.1 153.7,341.1 148.7,397.5" fill="none" stroke="#2b2b2b" stroke-width="2" stroke-linejoin="miter"/>
<polygon points="148.1,404.5 144.8,396.2 152.8,396.9" fill="#2b2b2b"/>
<polyline points="53.7,371.9 64.8,371.9 75.3,399.1" fill="none" stroke="#2b2b2b" stroke-width="2" stroke-linejoin="miter"/>
<polygon points="77.8,405.6 71.2,399.6 78.7,396.7" fill="#2b2b2b"/>
<polyline points="312.9,319.0 299.4,319.0 292.9,315.2" fill="none" stroke="#2b2b2b" stroke-width="2" stroke-linejoin="miter"/>
<polygon points="286.9,311.6 295.8,312.2 291.7,319.1" fill="#2b2b2b"/>
<circle cx="232.3" cy="387.7" r="18.5" fill="none" stroke="#b3303e" stroke-width="2.2" stroke-dasharray="6.2 5.4" stroke-dashoffset="2"/>
<circle cx="570.6" cy="356.5" r="18.5" fill="none" stroke="#b3303e" stroke-width="2.2" stroke-dasharray="6.2 5.4" stroke-dashoffset="2"/>
<polyline points="232.2,406.5 232.2,531.1" fill="none" stroke="#b3303e" stroke-width="1.9" stroke-linejoin="miter"/>
<polygon points="232.2,537.6 227.7,530.1 236.7,530.1" fill="#b3303e"/>
<line x1="229" y1="406.8" x2="235.4" y2="406.8" stroke="#b3303e" stroke-width="1.6"/>
<polyline points="581.6,370.2 688.5,532.2" fill="none" stroke="#b3303e" stroke-width="1.9" stroke-linejoin="miter"/>
<polygon points="692.4,538.0 684.2,533.8 691.7,528.8" fill="#b3303e"/>
<line x1="579" y1="371.8" x2="584.3" y2="368.2" stroke="#b3303e" stroke-width="1.6"/>
<rect x="786.9" y="488.9" width="29" height="28.6" rx="5.5" fill="#6d6e71"/>
<text x="822.2" y="509.7" font-size="14" fill="#2b2b2b" font-weight="normal" textLength="10.6" lengthAdjust="spacingAndGlyphs" >Si</text>
<rect x="878.6" y="488.9" width="29" height="28.6" rx="5.5" fill="#b1b2b4"/>
<text x="912.8" y="509.7" font-size="14" fill="#2b2b2b" font-weight="normal" textLength="17.8" lengthAdjust="spacingAndGlyphs" >IPS</text>
<rect x="970.3" y="488.9" width="29" height="28.6" rx="5.5" fill="#ebcd28"/>
<text x="1007.8" y="509.7" font-size="14" fill="#2b2b2b" font-weight="normal" textLength="27.8" lengthAdjust="spacingAndGlyphs" >Gold</text>
<rect x="4.3" y="539.2" width="538" height="247.6" fill="none" stroke="#1a1a1a" stroke-width="2"/>
<text x="13.1" y="562.7" font-size="17.5" fill="#111" font-weight="bold" textLength="11.7" lengthAdjust="spacingAndGlyphs" >D</text>
<defs><linearGradient id="stg" x1="0" y1="0" x2="0" y2="1"><stop offset="0" stop-color="#ee2a1c"/><stop offset="0.12" stop-color="#f04a22"/><stop offset="0.3" stop-color="#f07d2c"/><stop offset="0.47" stop-color="#e6a43a"/><stop offset="0.6" stop-color="#b9a83e"/><stop offset="0.72" stop-color="#6aa044"/><stop offset="0.85" stop-color="#33944a"/><stop offset="1" stop-color="#1e8a48"/></linearGradient></defs>
<rect x="13.4" y="581.2" width="21.5" height="186.6" fill="url(#stg)"/>
<polyline points="24.3,617.5 24.3,589.2" fill="none" stroke="#1a1a1a" stroke-width="1.8" stroke-linejoin="miter"/>
<polygon points="24.3,583.2 28.1,590.2 20.6,590.2" fill="#1a1a1a"/>
<line x1="24.3" y1="732.5" x2="24.3" y2="765.8" stroke="#1a1a1a" stroke-width="1.8"/>
<text transform="translate(29.2,720.4) rotate(-90)" font-size="14" fill="#1e2a1e" textLength="90.5" lengthAdjust="spacingAndGlyphs">Surface tension</text>
<rect x="58.8" y="581.2" width="186.9" height="186.7" fill="#a7a7a8"/>
<rect x="58.8" y="722.7" width="186.9" height="23.9" fill="#bfe9ec"/>
<rect x="79.2" y="601.3" width="62.4" height="122" fill="#bfe9ec"/>
<rect x="162.9" y="601.3" width="62.4" height="122" fill="#bfe9ec"/>
<defs><filter id="bl" x="-50%" y="-20%" width="200%" height="140%"><feGaussianBlur stdDeviation="2.6"/></filter></defs>
<rect x="83.2" y="617" width="14.099999999999994" height="104" fill="#e9b65e" filter="url(#bl)"/>
<rect x="125.2" y="617" width="13.799999999999997" height="104" fill="#e9b65e" filter="url(#bl)"/>
<rect x="166.3" y="617" width="21.799999999999983" height="104" fill="#42b860" filter="url(#bl)"/>
<rect x="213.3" y="617" width="9.899999999999977" height="104" fill="#e47272" filter="url(#bl)"/>
<rect x="100.5" y="617.8" width="19.9" height="130" fill="#a7a7a8"/>
<polygon points="190,618 210.7,619.5 210.7,748 190,748" fill="#a7a7a8"/>
<line x1="110.3" y1="582" x2="110.3" y2="746" stroke="#111" stroke-width="2.8" stroke-dasharray="4 4.2"/>
<polyline points="191.6,582 191.6,618.4 200.6,618.4 200.6,746" fill="none" stroke="#111" stroke-width="2.8" stroke-dasharray="4 4.2"/>
<text x="132.3" y="740.0" font-size="14" fill="#2b2b2b" font-weight="normal" textLength="43.9" lengthAdjust="spacingAndGlyphs" >Solvent</text>
<text x="68.1" y="761.8" font-size="14" fill="#2b2b2b" font-weight="normal" textLength="165.2" lengthAdjust="spacingAndGlyphs" >Misaligned slender features</text>
<text x="269.5" y="638.1" font-size="14" fill="#2b2b2b" font-weight="normal" textLength="44.5" lengthAdjust="spacingAndGlyphs" >Solvent</text>
<text x="257.0" y="654.8" font-size="14" fill="#2b2b2b" font-weight="normal" textLength="72.2" lengthAdjust="spacingAndGlyphs" >evaporation</text>
<polyline points="261.1,674.8 317.5,674.8" fill="none" stroke="#2b2b2b" stroke-width="2" stroke-linejoin="miter"/>
<polygon points="325.0,674.8 316.5,679.0 316.5,670.5" fill="#2b2b2b"/>
<rect x="339" y="581.1" width="187.1" height="20.9" fill="#a7a7a8"/>
<rect x="339" y="581.1" width="20" height="141.2" fill="#a7a7a8"/>
<rect x="422.4" y="581.1" width="20.0" height="141.2" fill="#a7a7a8"/>
<rect x="505.2" y="581.1" width="20.900000000000034" height="141.2" fill="#a7a7a8"/>
<rect x="339" y="746.5" width="187.1" height="20.9" fill="#a7a7a8"/>
<rect x="380.7" y="616.7" width="20.3" height="130" fill="#a7a7a8"/>
<path d="M469.6,747 C470.5,728 474.5,705 478,689.5 C481.5,672 484.5,648 484.9,624.2 L504.4,625.6 C504,645 502,660 500.2,675.6 C498,692 493,715 490.5,747 Z" fill="#a7a7a8"/>
<circle cx="504.4" cy="627" r="3.2" fill="#e0202a"/>
<text x="452.4" y="618.7" font-size="14" fill="#c8252f" font-weight="normal" textLength="45.0" lengthAdjust="spacingAndGlyphs" >Stiction</text>
<rect x="552.2" y="539.2" width="524.1" height="247.8" fill="none" stroke="#1a1a1a" stroke-width="2"/>
<text x="565.2" y="562.7" font-size="17.5" fill="#111" font-weight="bold" textLength="10.5" lengthAdjust="spacingAndGlyphs" >E</text>
<text x="565.4" y="591.5" font-size="14" fill="#2b2b2b" font-weight="normal" textLength="74.3" lengthAdjust="spacingAndGlyphs" >Flexure joint</text>
<text x="565.4" y="616.8" font-size="14" fill="#2b2b2b" font-weight="normal" textLength="37.9" lengthAdjust="spacingAndGlyphs" >Voxels</text>
<defs><linearGradient id="endR" gradientUnits="userSpaceOnUse" x1="756" y1="606" x2="796" y2="578"><stop offset="0" stop-color="#c6c6c7"/><stop offset="0.45" stop-color="#bababa"/><stop offset="1" stop-color="#ebebeb"/></linearGradient><linearGradient id="endL" gradientUnits="userSpaceOnUse" x1="616" y1="722" x2="580" y2="748"><stop offset="0" stop-color="#c0c0c0"/><stop offset="0.35" stop-color="#b4b4b4"/><stop offset="1" stop-color="#ebebeb"/></linearGradient><linearGradient id="beam" gradientUnits="userSpaceOnUse" x1="0" y1="0" x2="0.61" y2="0.79" ><stop offset="0" stop-color="#c0c0c0"/><stop offset="1" stop-color="#d0d0d0"/></linearGradient></defs>
<polygon points="763.4,560 748.6,571 747.5,596.1 764.5,617.1 788.4,620 803.2,608.6" fill="url(#endR)"/>
<polygon points="567,718.7 582.3,706.4 606.6,709.6 623.3,730.5 621.9,754.1 607.3,767.4" fill="url(#endL)"/>
<polygon points="606.6,709.6 747.5,596.1 764.5,617.1 623.3,730.5" fill="#c6c6c7"/>
<circle cx="741.2" cy="618.8" r="2.3" fill="#111"/>
<circle cx="730.6" cy="626.8" r="2.3" fill="#111"/>
<circle cx="720.5" cy="634.2" r="2.3" fill="#111"/>
<ellipse cx="617.4" cy="709" rx="7" ry="26" fill="#f2962a" fill-opacity="0.18" stroke="#9a5a18" stroke-opacity="0.20" stroke-width="1" transform="rotate(4 617.4 709)"/>
<ellipse cx="621" cy="722" rx="7" ry="26" fill="#f2962a" fill-opacity="0.12" stroke="#9a5a18" stroke-opacity="0.13" stroke-width="1" transform="rotate(4 621 722)"/>
<ellipse cx="633.4" cy="696.6" rx="7.5" ry="27" fill="#f2962a" fill-opacity="0.3" stroke="#9a5a18" stroke-opacity="0.33" stroke-width="1" transform="rotate(4 633.4 696.6)"/>
<ellipse cx="637" cy="710" rx="7.5" ry="27" fill="#f2962a" fill-opacity="0.22" stroke="#9a5a18" stroke-opacity="0.24" stroke-width="1" transform="rotate(4 637 710)"/>
<ellipse cx="650" cy="683" rx="7.5" ry="28" fill="#f2962a" fill-opacity="0.5" stroke="#9a5a18" stroke-opacity="0.55" stroke-width="1" transform="rotate(4 650 683)"/>
<ellipse cx="654" cy="697" rx="7.5" ry="27" fill="#f2962a" fill-opacity="0.35" stroke="#9a5a18" stroke-opacity="0.39" stroke-width="1" transform="rotate(4 654 697)"/>
<ellipse cx="665.2" cy="670" rx="7.5" ry="28" fill="#f2962a" fill-opacity="0.75" stroke="#9a5a18" stroke-opacity="0.83" stroke-width="1" transform="rotate(4 665.2 670)"/>
<ellipse cx="670" cy="684" rx="7.5" ry="27" fill="#f2962a" fill-opacity="0.5" stroke="#9a5a18" stroke-opacity="0.55" stroke-width="1" transform="rotate(4 670 684)"/>
<ellipse cx="677.4" cy="672" rx="7" ry="27" fill="#f2962a" fill-opacity="0.85" stroke="#9a5a18" stroke-opacity="0.94" stroke-width="1" transform="rotate(4 677.4 672)"/>
<ellipse cx="691" cy="676" rx="7" ry="22" fill="#f2962a" fill-opacity="0.6" stroke="#9a5a18" stroke-opacity="0.66" stroke-width="1" transform="rotate(4 691 676)"/>
<ellipse cx="682.7" cy="656.4" rx="7" ry="28.5" fill="#f2962a" fill-opacity="1" stroke="#9a5a18" stroke-opacity="1.00" stroke-width="1" transform="rotate(4 682.7 656.4)"/>
<ellipse cx="694.8" cy="657" rx="6.5" ry="28.2" fill="#f2962a" fill-opacity="1" stroke="#9a5a18" stroke-opacity="1.00" stroke-width="1" transform="rotate(4 694.8 657)"/>
<ellipse cx="708.4" cy="657" rx="7.6" ry="28.8" fill="#f2962a" fill-opacity="1" stroke="#9a5a18" stroke-opacity="1.00" stroke-width="1" transform="rotate(4 708.4 657)"/>
<polyline points="763.4,560 748.6,571 747.5,596.1 711,623.5" fill="none" stroke="#222" stroke-width="1.3" stroke-linejoin="miter"/>
<polyline points="803.2,608.6 788.4,620 764.5,617.1 735,641" fill="none" stroke="#222" stroke-width="1.3" stroke-linejoin="miter"/>
<polyline points="567,718.7 582.3,706.4 606.6,709.6 672,657" fill="none" stroke="#222" stroke-width="1.3" stroke-linejoin="miter" stroke-opacity="0.8"/>
<polyline points="607.3,767.4 621.9,754.1 623.3,730.5 690,676.5" fill="none" stroke="#222" stroke-width="1.3" stroke-linejoin="miter" stroke-opacity="0.8"/>
<polyline points="682.0,656.5 696.5,656.5" fill="none" stroke="#2b2b2b" stroke-width="2" stroke-linejoin="miter"/>
<polygon points="702.5,656.5 695.5,660.0 695.5,653.0" fill="#2b2b2b"/>
<polyline points="656.1,585.8 684.5,585.8 709.1,611.6" fill="none" stroke="#2b2b2b" stroke-width="2" stroke-linejoin="miter"/>
<polygon points="714.6,617.4 705.5,613.6 711.3,608.1" fill="#2b2b2b"/>
<polyline points="613.5,611.1 640.3,611.1 654.8,638.2" fill="none" stroke="#2b2b2b" stroke-width="2" stroke-linejoin="miter"/>
<polygon points="658.6,645.2 650.8,639.2 657.9,635.4" fill="#2b2b2b"/>
<defs><clipPath id="semclip"><rect x="823.1" y="546.5" width="247.30000000000007" height="233.5"/></clipPath><radialGradient id="semlow" gradientUnits="userSpaceOnUse" cx="1030" cy="672" r="150" gradientTransform="rotate(-25 1030 672) translate(1030 672) scale(1 0.75) translate(-1030 -672)"><stop offset="0" stop-color="#161616"/><stop offset="0.35" stop-color="#262626"/><stop offset="0.75" stop-color="#585858"/><stop offset="1" stop-color="#6a6a6a"/></radialGradient><linearGradient id="finsg" gradientUnits="userSpaceOnUse" x1="830" y1="0" x2="1070" y2="0"><stop offset="0" stop-color="#dedede"/><stop offset="0.5" stop-color="#e4e4e4"/><stop offset="1" stop-color="#d8d8d8"/></linearGradient><clipPath id="finclip"><polygon points="834.8,609.6 963.7,547.4 1070.4,546.5 1070.4,643.5 831.8,758 831.8,780 823.1,780 823.1,608"/></clipPath><clipPath id="tlc"><polygon points="823.1,546.5 968,546.5 834.8,609.6 823.1,609.6"/></clipPath></defs>
<g clip-path="url(#semclip)">
<rect x="823.1" y="546.5" width="247.30000000000007" height="233.5" fill="url(#semlow)"/>
<g clip-path="url(#tlc)">
<rect x="823.1" y="546.5" width="150" height="70" fill="#3c3c3c"/>
<rect x="823.1" y="548.7" width="150" height="2.2" fill="#5a5a5a"/>
<rect x="823.1" y="553.2" width="150" height="2.2" fill="#5a5a5a"/>
<rect x="823.1" y="557.7" width="150" height="2.2" fill="#5a5a5a"/>
<rect x="823.1" y="562.2" width="150" height="2.2" fill="#5a5a5a"/>
<rect x="823.1" y="566.7" width="150" height="2.2" fill="#5a5a5a"/>
<rect x="823.1" y="571.2" width="150" height="2.2" fill="#5a5a5a"/>
<rect x="823.1" y="575.7" width="150" height="2.2" fill="#5a5a5a"/>
<rect x="823.1" y="580.2" width="150" height="2.2" fill="#5a5a5a"/>
<rect x="823.1" y="584.7" width="150" height="2.2" fill="#5a5a5a"/>
<rect x="823.1" y="589.2" width="150" height="2.2" fill="#5a5a5a"/>
<rect x="823.1" y="593.7" width="150" height="2.2" fill="#5a5a5a"/>
<rect x="823.1" y="598.2" width="150" height="2.2" fill="#5a5a5a"/>
<rect x="823.1" y="602.7" width="150" height="2.2" fill="#5a5a5a"/>
<rect x="823.1" y="607.2" width="150" height="2.2" fill="#5a5a5a"/>
<rect x="823.1" y="611.7" width="150" height="2.2" fill="#5a5a5a"/>
<rect x="823.1" y="616.2" width="150" height="2.2" fill="#5a5a5a"/>
<polygon points="823.1,583 836,609.6 823.1,609.6" fill="#7c7c7c"/>
<polygon points="846,588 930,546 975,546 834.8,612 828,612" fill="#141414"/>
<ellipse cx="850.4" cy="588.1" rx="2.6" ry="1.8" fill="#8a8a8a"/>
<ellipse cx="860.7" cy="583.2" rx="2.6" ry="1.8" fill="#8a8a8a"/>
<ellipse cx="871.0" cy="578.3" rx="2.6" ry="1.8" fill="#8a8a8a"/>
<ellipse cx="881.2" cy="573.4" rx="2.6" ry="1.8" fill="#8a8a8a"/>
<ellipse cx="891.5" cy="568.5" rx="2.6" ry="1.8" fill="#8a8a8a"/>
<ellipse cx="901.8" cy="563.6" rx="2.6" ry="1.8" fill="#8a8a8a"/>
<ellipse cx="912.0" cy="558.7" rx="2.6" ry="1.8" fill="#8a8a8a"/>
<ellipse cx="922.3" cy="553.8" rx="2.6" ry="1.8" fill="#8a8a8a"/>
<ellipse cx="932.6" cy="548.9" rx="2.6" ry="1.8" fill="#8a8a8a"/>
</g>
<g clip-path="url(#finclip)">
<rect x="823.1" y="546.5" width="247.30000000000007" height="233.5" fill="url(#finsg)"/>
<path d="M824.5,780 Q825.0,650 826.0,546" stroke="#8c8c8c" stroke-width="1.2" fill="none"/>
<path d="M830.2,780 Q830.7,650 831.7,546" stroke="#6c6c6c" stroke-width="0.9" fill="none"/>
<path d="M835.0,780 Q835.5,650 836.5,546" stroke="#6c6c6c" stroke-width="1.4" fill="none"/>
<path d="M840.1,780 Q840.6,650 841.6,546" stroke="#a8a8a8" stroke-width="1.0" fill="none"/>
<path d="M844.8,780 Q845.3,650 846.3,546" stroke="#a8a8a8" stroke-width="1.0" fill="none"/>
<path d="M849.5,780 Q850.0,650 851.0,546" stroke="#8c8c8c" stroke-width="1.4" fill="none"/>
<path d="M855.9,780 Q856.4,650 857.4,546" stroke="#7a7a7a" stroke-width="1.4" fill="none"/>
<path d="M862.1,780 Q862.6,650 863.6,546" stroke="#8c8c8c" stroke-width="1.3" fill="none"/>
<path d="M866.8,780 Q867.3,650 868.3,546" stroke="#9c9c9c" stroke-width="1.7" fill="none"/>
<path d="M872.5,780 Q873.0,650 874.0,546" stroke="#6c6c6c" stroke-width="1.4" fill="none"/>
<path d="M877.9,780 Q878.4,650 879.4,546" stroke="#8c8c8c" stroke-width="1.6" fill="none"/>
<path d="M882.8,780 Q883.3,650 884.4,546" stroke="#8c8c8c" stroke-width="1.4" fill="none"/>
<path d="M888.4,780 Q888.9,650 890.4,546" stroke="#7a7a7a" stroke-width="1.4" fill="none"/>
<path d="M894.6,780 Q895.1,650 896.9,546" stroke="#a8a8a8" stroke-width="1.5" fill="none"/>
<path d="M901.1,780 Q901.6,650 903.9,546" stroke="#9c9c9c" stroke-width="1.3" fill="none"/>
<path d="M907.0,780 Q907.5,650 910.1,546" stroke="#9c9c9c" stroke-width="1.7" fill="none"/>
<path d="M912.4,780 Q912.9,650 915.8,546" stroke="#8c8c8c" stroke-width="1.6" fill="none"/>
<path d="M917.1,780 Q917.6,650 920.9,546" stroke="#a8a8a8" stroke-width="1.2" fill="none"/>
<path d="M924.3,780 Q924.8,650 928.4,546" stroke="#9c9c9c" stroke-width="1.6" fill="none"/>
<path d="M930.6,780 Q931.1,650 935.1,546" stroke="#6c6c6c" stroke-width="1.0" fill="none"/>
<path d="M936.4,780 Q936.9,650 941.2,546" stroke="#8c8c8c" stroke-width="1.6" fill="none"/>
<path d="M943.7,780 Q944.2,650 949.0,546" stroke="#7a7a7a" stroke-width="1.3" fill="none"/>
<path d="M950.4,780 Q950.9,650 956.2,546" stroke="#9c9c9c" stroke-width="1.4" fill="none"/>
<path d="M956.0,780 Q956.5,650 962.0,546" stroke="#a8a8a8" stroke-width="1.2" fill="none"/>
<path d="M962.2,780 Q962.7,650 968.6,546" stroke="#7a7a7a" stroke-width="1.3" fill="none"/>
<path d="M969.5,780 Q970.0,650 976.4,546" stroke="#7a7a7a" stroke-width="1.3" fill="none"/>
<path d="M974.2,780 Q974.7,650 981.4,546" stroke="#6c6c6c" stroke-width="1.5" fill="none"/>
<path d="M981.7,780 Q982.2,650 989.3,546" stroke="#9c9c9c" stroke-width="1.6" fill="none"/>
<path d="M988.4,780 Q988.9,650 996.4,546" stroke="#9c9c9c" stroke-width="1.7" fill="none"/>
<path d="M992.9,780 Q993.4,650 1001.2,546" stroke="#8c8c8c" stroke-width="1.3" fill="none"/>
<path d="M999.3,780 Q999.8,650 1007.9,546" stroke="#8c8c8c" stroke-width="1.3" fill="none"/>
<path d="M1006.1,780 Q1006.6,650 1015.1,546" stroke="#8c8c8c" stroke-width="1.0" fill="none"/>
<path d="M1011.8,780 Q1012.3,650 1021.2,546" stroke="#a8a8a8" stroke-width="1.7" fill="none"/>
<path d="M1016.5,780 Q1017.0,650 1026.2,546" stroke="#6c6c6c" stroke-width="1.3" fill="none"/>
<path d="M1021.8,780 Q1022.3,650 1031.8,546" stroke="#a8a8a8" stroke-width="1.0" fill="none"/>
<path d="M1028.9,780 Q1029.4,650 1039.4,546" stroke="#a8a8a8" stroke-width="1.2" fill="none"/>
<path d="M1036.4,780 Q1036.9,650 1047.3,546" stroke="#a8a8a8" stroke-width="1.5" fill="none"/>
<path d="M1043.8,780 Q1044.3,650 1055.1,546" stroke="#8c8c8c" stroke-width="1.0" fill="none"/>
<path d="M1048.7,780 Q1049.2,650 1060.3,546" stroke="#7a7a7a" stroke-width="1.5" fill="none"/>
<path d="M1054.7,780 Q1055.2,650 1066.6,546" stroke="#9c9c9c" stroke-width="1.4" fill="none"/>
<path d="M1060.0,780 Q1060.5,650 1072.3,546" stroke="#6c6c6c" stroke-width="1.0" fill="none"/>
<path d="M1065.6,780 Q1066.1,650 1078.2,546" stroke="#8c8c8c" stroke-width="1.4" fill="none"/>
<path d="M1072.2,780 Q1072.7,650 1085.2,546" stroke="#6c6c6c" stroke-width="1.4" fill="none"/>
</g>
<polyline points="831.8,758 1070.4,643.5" stroke="#9a9a9a" stroke-width="3.2" fill="none"/>
<polygon points="833,761 893.2,731.5 893.2,780 833,780" fill="#1a1a1a"/>
</g>
<rect x="1017" y="747.4" width="48.1" height="3.8" fill="#f4f4f4"/>
<text x="1022.4" y="768.9" font-size="14" fill="#ececec" font-weight="normal" textLength="37.0" lengthAdjust="spacingAndGlyphs" >20 µm</text></svg></body></html>
